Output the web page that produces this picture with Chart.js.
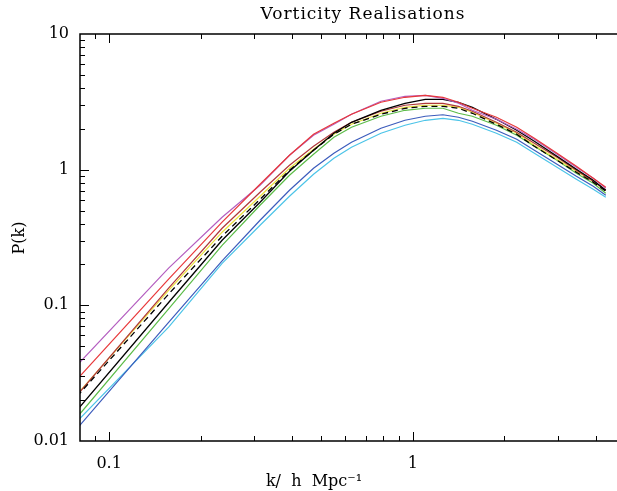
<!DOCTYPE html>
<html lang="en">
<head>
  <meta charset="UTF-8">
  <title>Vorticity Realisations</title>
  <script src="https://cdn.jsdelivr.net/npm/chart.js"></script>
  <style>
    html, body { margin: 0; padding: 0; background: #fff; overflow: hidden; }
    #caixa { width: 617px; height: 491px; }
  </style>
</head>
<body>
  <div id="caixa"><canvas id="espectro"></canvas></div>

<script>
  // k in h/Mpc, P(k)
  const k = [0.0785, 0.157, 0.2355, 0.314, 0.3925, 0.471, 0.5495, 0.628, 0.785, 0.942, 1.099,
             1.256, 1.413, 1.57, 1.884, 2.198, 2.512, 2.983, 3.454, 3.925, 4.3175];

  const mean   = [0.0214, 0.121, 0.323, 0.605, 0.990, 1.390, 1.823, 2.161, 2.560, 2.835, 2.932, 2.932, 2.835, 2.604, 2.161, 1.823, 1.487, 1.173, 0.957, 0.808, 0.693];
  const red    = [0.0285, 0.156, 0.410, 0.781, 1.277, 1.823, 2.198, 2.560, 3.138, 3.416, 3.534, 3.416, 3.138, 2.835, 2.433, 2.053, 1.703, 1.321, 1.060, 0.864, 0.742];
  const purple = [0.0362, 0.188, 0.446, 0.767, 1.277, 1.793, 2.161, 2.560, 3.192, 3.475, 3.534, 3.358, 3.085, 2.740, 2.351, 1.985, 1.675, 1.299, 1.041, 0.864, 0.729];
  const black  = [0.0169, 0.105, 0.302, 0.575, 0.973, 1.390, 1.854, 2.235, 2.740, 3.085, 3.302, 3.302, 3.138, 2.883, 2.351, 1.951, 1.620, 1.255, 1.007, 0.835, 0.705];
  const brown  = [0.0218, 0.134, 0.370, 0.682, 1.077, 1.487, 1.886, 2.235, 2.694, 2.983, 3.085, 3.085, 2.932, 2.694, 2.235, 1.886, 1.565, 1.234, 0.990, 0.821, 0.705];
  const yellow = [0.0221, 0.129, 0.346, 0.637, 1.024, 1.414, 1.823, 2.161, 2.604, 2.883, 2.983, 2.983, 2.883, 2.649, 2.198, 1.854, 1.513, 1.193, 0.973, 0.821, 0.705];
  const green  = [0.0150, 0.094, 0.277, 0.547, 0.909, 1.299, 1.733, 2.053, 2.475, 2.740, 2.835, 2.835, 2.604, 2.475, 2.124, 1.793, 1.487, 1.173, 0.941, 0.794, 0.670];
  const blue   = [0.0124, 0.075, 0.213, 0.424, 0.705, 1.024, 1.321, 1.592, 2.019, 2.312, 2.475, 2.539, 2.433, 2.273, 1.951, 1.675, 1.390, 1.096, 0.894, 0.755, 0.648];
  const cyan   = [0.0140, 0.069, 0.204, 0.389, 0.637, 0.925, 1.213, 1.463, 1.854, 2.124, 2.312, 2.392, 2.312, 2.161, 1.854, 1.592, 1.321, 1.041, 0.850, 0.717, 0.626];

  const xTickLabels = ['0.1', '1'];
  const yTickLabels = ['0.01', '0.1', '1', '10'];

  const titulo = 'Vorticity Realisations';
  const tituloX = 'k/  h  Mpc\u207B\u00B9';
  const tituloY = 'P(k)';
  const fonte = '"DejaVu Serif", "Liberation Serif", serif';

  function linha(label, data, cor, largura, tracejado) {
    return {
      label: label,
      data: k.map((v, i) => ({ x: v, y: data[i] })),
      borderColor: cor,
      borderWidth: largura,
      borderDash: tracejado || [],
      pointRadius: 0,
      tension: 0,
      fill: false
    };
  }

  // mantissa of a log tick (1..9) or 0 when it is not a round value
  function mantissa(v) {
    const e = Math.floor(Math.log10(v) + 1e-9);
    const m = v / Math.pow(10, e);
    const r = Math.round(m);
    return Math.abs(m - r) < 1e-6 ? r : 0;
  }

  function rotulo(lista) {
    return function (value) {
      const achado = lista.find(s => Math.abs(parseFloat(s) - value) < 1e-9 * Math.max(1, value) + 1e-12);
      return achado || '';
    };
  }

  // frame, inside ticks and free text like the original plot
  const moldura = {
    id: 'moldura',
    afterDraw(chart) {
      const { ctx, chartArea: a, scales: { x, y } } = chart;
      ctx.save();
      ctx.strokeStyle = '#000';
      ctx.lineWidth = 1.5;
      ctx.beginPath();
      ctx.moveTo(a.right + 2, a.top);
      ctx.lineTo(a.left, a.top);
      ctx.lineTo(a.left, a.bottom);
      ctx.lineTo(a.right + 2, a.bottom);
      ctx.stroke();

      ctx.lineWidth = 1;
      ctx.beginPath();
      x.ticks.forEach(t => {
        const m = mantissa(t.value);
        if (!m) return;
        const px = Math.round(x.getPixelForValue(t.value)) + 0.5;
        if (px <= a.left + 1 || px >= a.right) return;
        const len = m === 1 ? 9 : 5;
        ctx.moveTo(px, a.bottom); ctx.lineTo(px, a.bottom - len);
        ctx.moveTo(px, a.top); ctx.lineTo(px, a.top + len);
      });
      y.ticks.forEach(t => {
        const m = mantissa(t.value);
        if (!m) return;
        const py = Math.round(y.getPixelForValue(t.value)) + 0.5;
        if (py <= a.top + 1 || py >= a.bottom - 1) return;
        const len = m === 1 ? 9 : 5;
        ctx.moveTo(a.left, py); ctx.lineTo(a.left + len, py);
      });
      ctx.stroke();

      ctx.fillStyle = '#000';
      ctx.textAlign = 'center';
      ctx.textBaseline = 'middle';
      ctx.font = '17px ' + fonte;
      ctx.letterSpacing = '1px';
      ctx.fillText(titulo, 363, 15);
      ctx.letterSpacing = '0px';
      ctx.font = '16px ' + fonte;
      ctx.fillText(tituloX, 314, 482);
      ctx.translate(20, 238);
      ctx.rotate(-Math.PI / 2);
      ctx.fillText(tituloY, 0, 0);
      ctx.restore();
    }
  };

  new Chart(document.getElementById('espectro'), {
    type: 'line',
    data: {
      datasets: [
        linha('Mean', mean, '#000000', 1.3, [6, 4]),
        linha('Realisation 1', red, '#e8383a', 1.2),
        linha('Realisation 2', purple, '#b45ec0', 1.2),
        linha('Realisation 3', black, '#000000', 1.3),
        linha('Realisation 4', brown, '#b0393a', 1.2),
        linha('Realisation 5', yellow, '#ece23c', 1.2),
        linha('Realisation 6', green, '#5cbc48', 1.2),
        linha('Realisation 7', blue, '#3c5cbc', 1.2),
        linha('Realisation 8', cyan, '#4cc4e8', 1.2)
      ]
    },
    options: {
      responsive: true,
      maintainAspectRatio: false,
      animation: false,
      layout: { padding: { top: 34, right: 0, bottom: 0, left: 0 } },
      plugins: {
        legend: { display: false },
        tooltip: { enabled: false },
        title: { display: false }
      },
      scales: {
        x: {
          type: 'logarithmic',
          min: 0.0802,
          max: 4.70,
          grid: { display: false, drawTicks: false },
          border: { display: false },
          afterFit: (s) => { s.height = 50; s.paddingLeft = 0; s.paddingRight = 0; },
          ticks: {
            autoSkip: false,
            maxRotation: 0,
            padding: 13,
            color: '#000',
            font: { family: fonte, size: 16 },
            callback: rotulo(xTickLabels)
          }
        },
        y: {
          type: 'logarithmic',
          min: 0.01,
          max: 10,
          grid: { display: false, drawTicks: false },
          border: { display: false },
          afterFit: (s) => { s.width = 80; },
          ticks: {
            autoSkip: false,
            padding: 11,
            color: '#000',
            font: { family: fonte, size: 16 },
            callback: rotulo(yTickLabels)
          }
        }
      }
    },
    plugins: [moldura]
  });
</script>
</body>
</html>
